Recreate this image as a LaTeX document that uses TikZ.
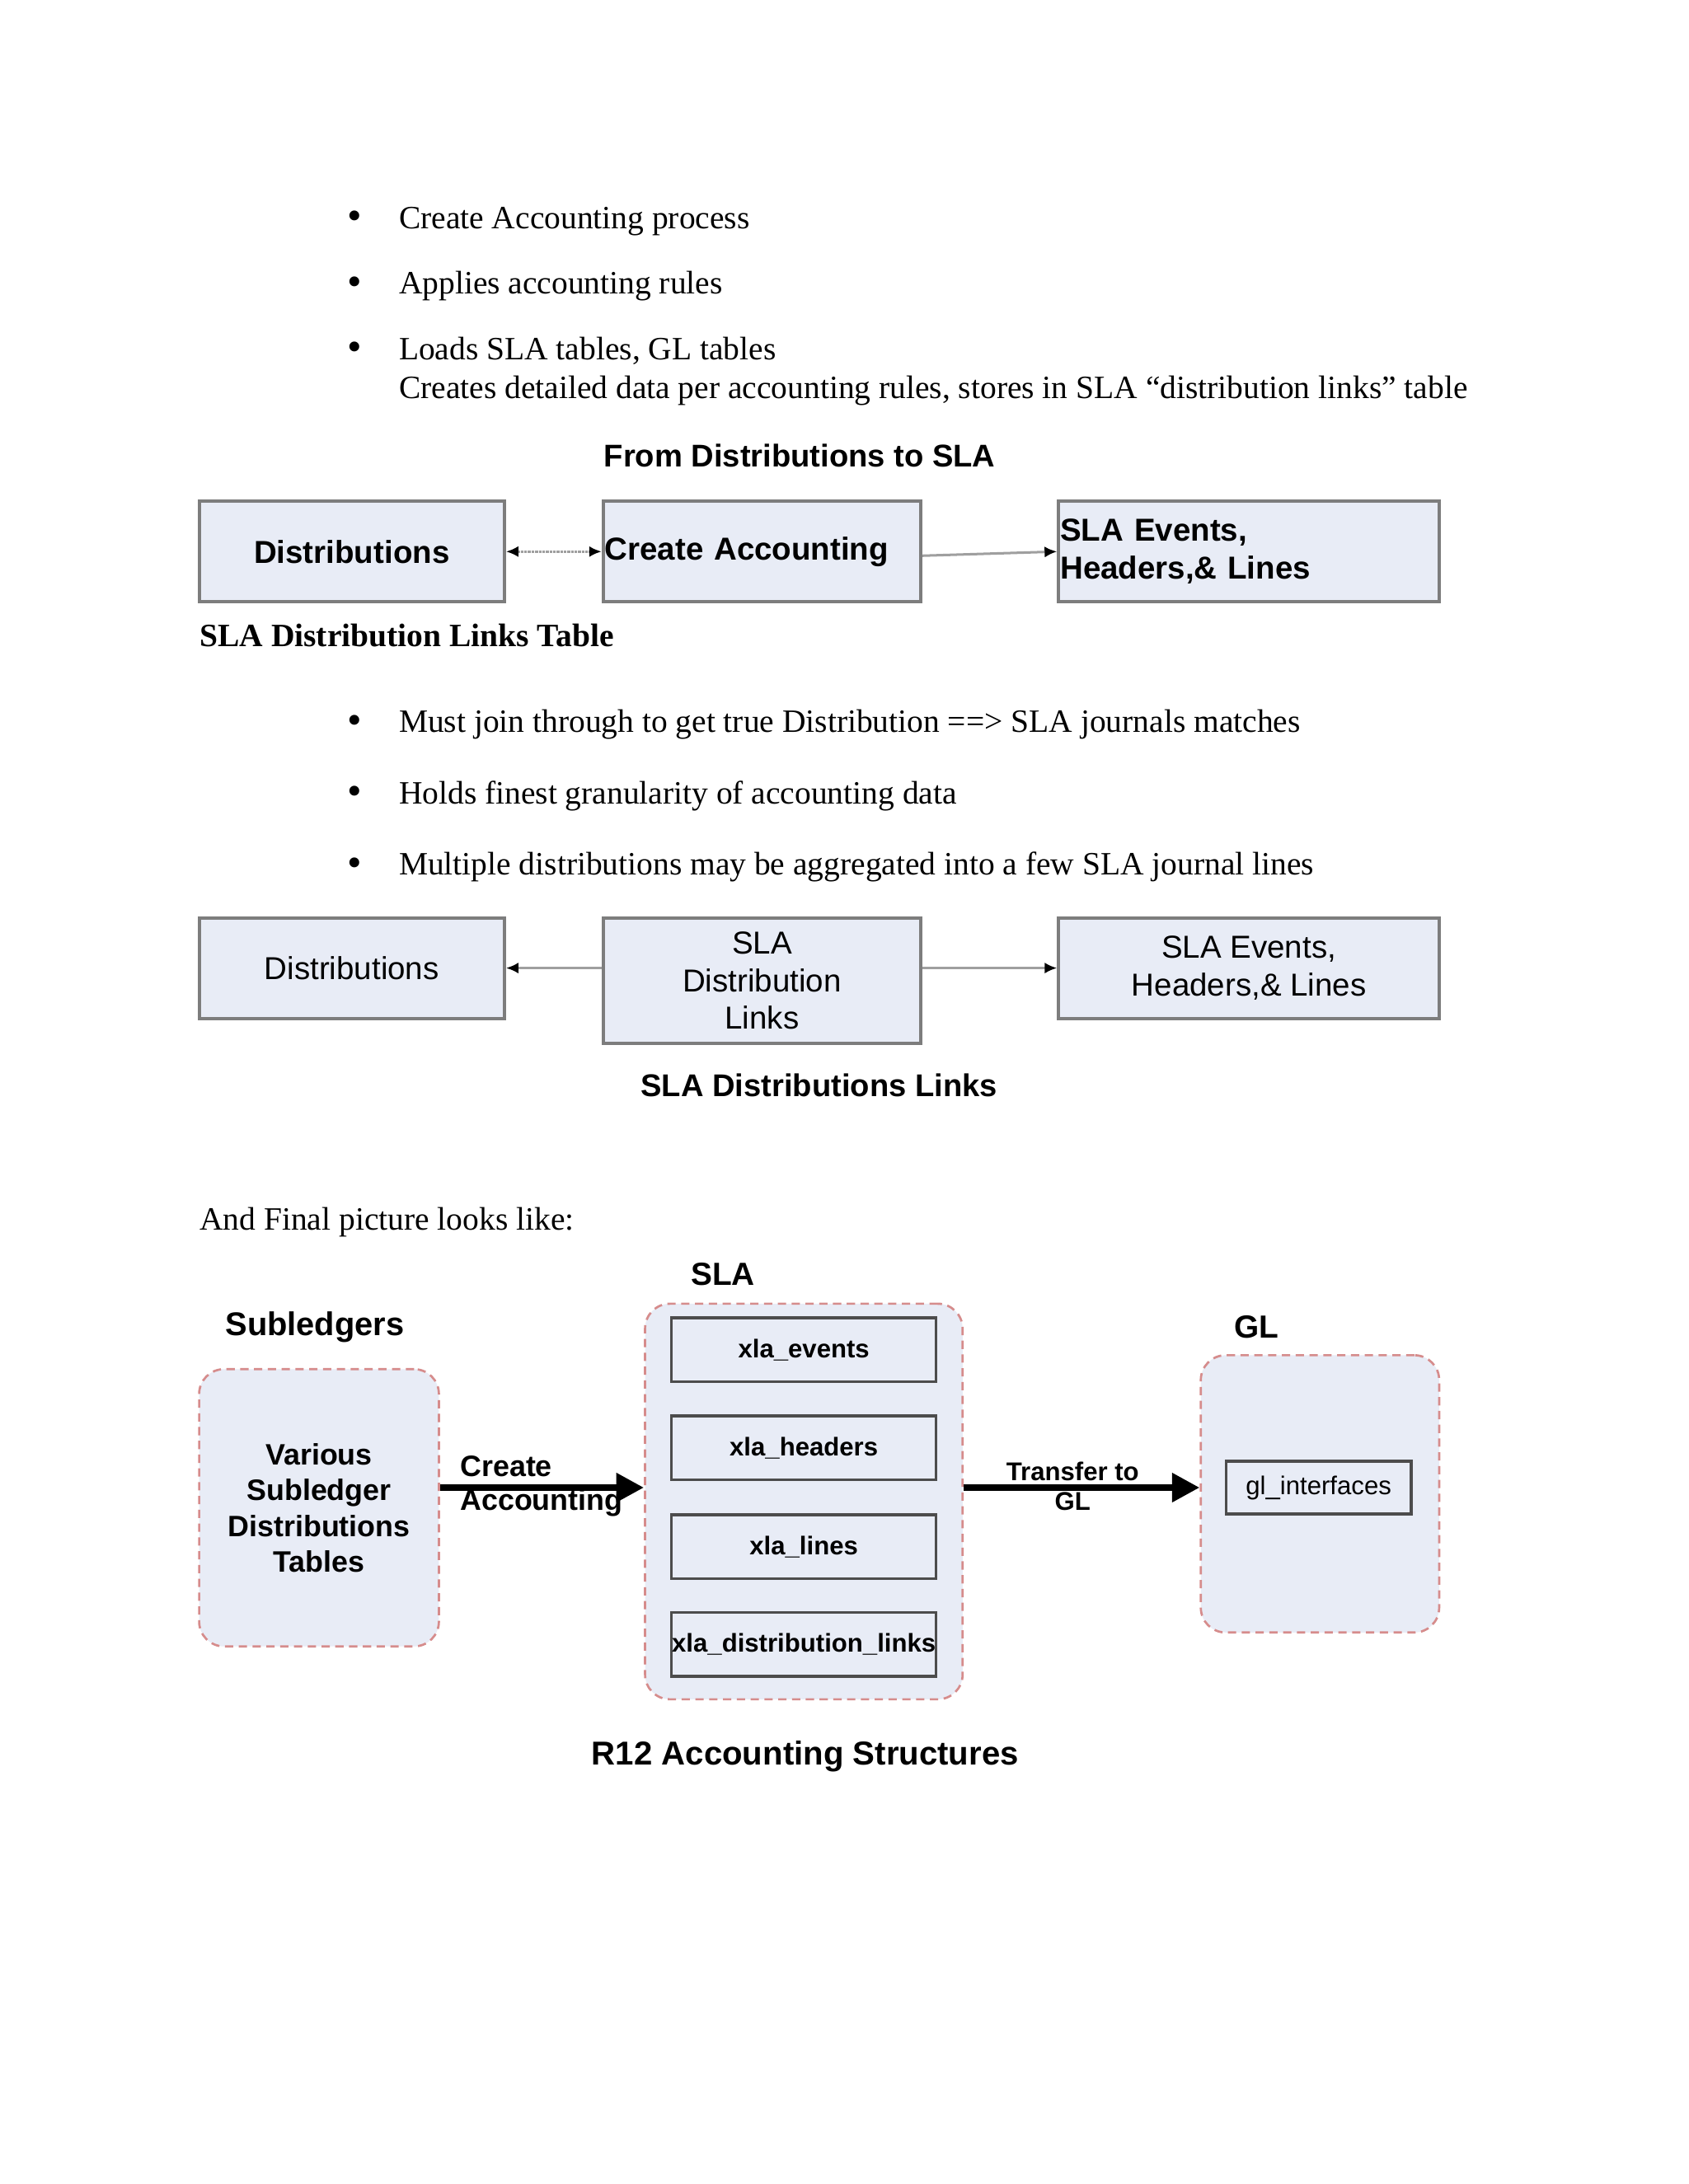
\documentclass[tikz,border=0pt]{standalone}
\usepackage{fontspec}
\setmainfont{Liberation Serif}
\setsansfont{Liberation Sans}
\usetikzlibrary{arrows.meta}
\definecolor{boxfill}{RGB}{232,236,246}
\definecolor{boxline}{RGB}{125,125,125}
\definecolor{dashline}{RGB}{214,140,140}
\begin{document}
\begin{tikzpicture}[x=0.50495pt,y=-0.50495pt,
  bodytext/.style={anchor=base west,inner sep=0pt,font=\fontsize{11.8}{14}\selectfont},
  bultext/.style={anchor=base west,inner sep=0pt,font=\fontsize{15}{14}\selectfont},
  headtext/.style={inner sep=0pt,font=\sffamily\bfseries\fontsize{11.4}{13}\selectfont},
  plainbox/.style={draw=boxline,fill=boxfill,line width=1.2pt,inner sep=0.5pt,font=\sffamily\fontsize{11.5}{13.6}\selectfont},
  dashbox/.style={draw=dashline,dash pattern=on 3pt off 2pt,line width=0.8pt,rounded corners=9pt,fill=boxfill,inner sep=0pt,minimum width=#1},
  tablebox/.style={draw=black!70,line width=1pt,fill=boxfill,inner sep=0pt,minimum width=95.9pt,minimum height=23.2pt,font=\sffamily\bfseries\fontsize{9.3}{11}\selectfont},
  thinarrow/.style={draw=gray!75,line width=0.9pt,-{Latex[black,length=4.5pt,width=4pt]}},
  thickarrow/.style={draw=black,line width=2.5pt,-{Triangle[length=10pt,width=10pt]}}
]
\useasboundingbox (0,0) rectangle (1212,1568);
\fill[white] (0,0) rectangle (1212,1568);

% ---- top bullets
\node[bultext] (b1) at (249,165) {•};
\node[bodytext] (t1) at (286,164) {Create Accounting process};
\node[bultext] (b2) at (249,212) {•};
\node[bodytext] (t2) at (286,211) {Applies accounting rules};
\node[bultext] (b3) at (249,259) {•};
\node[bodytext] (t3) at (286,258) {Loads SLA tables, GL tables};
\node[bodytext] (t4) at (286,286) {Creates detailed data per accounting rules, stores in SLA “distribution links” table};

% ---- diagram 1
\node[headtext] (h1) at (574,327) {From Distributions to SLA};
\node[plainbox,minimum width=110.6pt,minimum height=36.4pt,font=\sffamily\bfseries\fontsize{11.5}{13.6}\selectfont] (d1dist) at (252.5,396) {Distributions};
\node[plainbox,minimum width=115.1pt,minimum height=36.4pt,text width=114pt,align=left,font=\sffamily\bfseries\fontsize{11.5}{13.6}\selectfont] (d1ca) at (547,396) {Create Accounting};
\node[plainbox,minimum width=137.9pt,minimum height=36.4pt,text width=136.8pt,align=left,font=\sffamily\bfseries\fontsize{11.5}{13.6}\selectfont] (d1sla) at (896.5,396) {SLA Events,\\Headers,\& Lines};
\draw[thinarrow,{Latex[black,length=4.5pt,width=4pt]}-{Latex[black,length=4.5pt,width=4pt]},dash pattern=on 1pt off 0.3pt] (d1dist.east) -- (d1ca.west);
\draw[thinarrow] ([yshift=-1.5pt]d1ca.east) -- (d1sla.west);

\node[bodytext,font=\bfseries\fontsize{11.8}{14}\selectfont] (h2) at (143,464) {SLA Distribution Links Table};

% ---- middle bullets
\node[bultext] (b4) at (249,527) {•};
\node[bodytext] (t5) at (286,526) {Must join through to get true Distribution ==> SLA journals matches};
\node[bultext] (b5) at (249,578) {•};
\node[bodytext] (t6) at (286,577) {Holds finest granularity of accounting data};
\node[bultext] (b6) at (249,629) {•};
\node[bodytext] (t7) at (286,628) {Multiple distributions may be aggregated into a few SLA journal lines};

% ---- diagram 2
\node[plainbox,minimum width=110.6pt,minimum height=36.4pt] (d2dist) at (252.5,695) {Distributions};
\node[plainbox,minimum width=115.1pt,minimum height=45.4pt,align=center] (d2links) at (547,704) {SLA\\Distribution\\Links};
\node[plainbox,minimum width=137.9pt,minimum height=36.4pt,align=center] (d2sla) at (896.5,695) {SLA Events,\\Headers,\& Lines};
\draw[thinarrow] (d2links.west |- d2dist.east) -- (d2dist.east);
\draw[thinarrow] (d2links.east |- d2sla.west) -- (d2sla.west);
\node[headtext] (h3) at (588,779) {SLA Distributions Links};

\node[bodytext] (t8) at (143,883) {And Final picture looks like:};

% ---- diagram 3
\node[headtext,font=\sffamily\bfseries\fontsize{11.6}{13}\selectfont] (hsla) at (519,915) {SLA};
\node[headtext,font=\sffamily\bfseries\fontsize{11.9}{13}\selectfont] (hsub) at (226,953) {Subledgers};
\node[headtext,font=\sffamily\bfseries\fontsize{11.6}{13}\selectfont] (hgl) at (902,953) {GL};

\node[dashbox=86.9pt,minimum height=100.5pt,align=center,font=\sffamily\bfseries\fontsize{10.7}{13}\selectfont] (sub) at (229,1082.5) {Various\\Subledger\\Distributions\\Tables};
\node[dashbox=115.1pt,minimum height=143.4pt] (sla) at (577,1078) {};
\node[dashbox=86.4pt,minimum height=100.5pt] (gl) at (947.5,1072.5) {};

\node[tablebox] (xev) at (577,969) {xla\_events};
\node[tablebox] (xhd) at (577,1039.5) {xla\_headers};
\node[tablebox] (xln) at (577,1110.5) {xla\_lines};
\node[tablebox] (xdl) at (577,1180.5) {xla\_distribution\_links};
\node[tablebox,minimum width=67.2pt,minimum height=19.2pt,font=\sffamily\fontsize{9.3}{11}\selectfont] (gli) at (946.5,1068) {gl\_interfaces};

\draw[thickarrow] (sub.east |- gli) -- (sla.west |- gli);
\draw[thickarrow] (sla.east |- gli) -- (gl.west |- gli);
\node[anchor=west,inner sep=0pt,align=left,font=\sffamily\bfseries\fontsize{10.7}{12}\selectfont] (lca) at (330,1067) {Create\\Accounting};
\node[inner sep=0pt,align=center,font=\sffamily\bfseries\fontsize{9.3}{11}\selectfont] (ltg) at (770,1067) {Transfer to\\GL};

\node[headtext,font=\sffamily\bfseries\fontsize{12}{14}\selectfont] (h4) at (578,1261) {R12 Accounting Structures};
\end{tikzpicture}
\end{document}
